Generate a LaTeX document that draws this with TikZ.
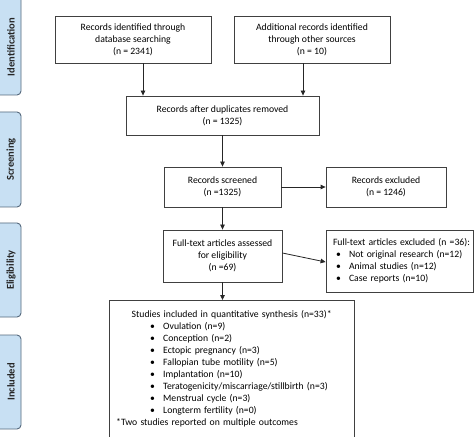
\documentclass[tikz,border=0pt]{standalone}
\usepackage{fontspec}
\setmainfont{Carlito}
\usetikzlibrary{arrows.meta,calc}
\definecolor{barfill}{RGB}{200,224,243}
\definecolor{barline}{RGB}{85,105,125}
\newcommand{\boxfont}{\fontsize{9.7bp}{12bp}\selectfont}
\newcommand{\barfont}{\fontsize{10.5bp}{12bp}\selectfont\bfseries}
\newcommand{\bul}{\makebox[13bp][l]{\textbullet}}
\begin{document}
\begin{tikzpicture}[x=1bp,y=-1bp,
  box/.style={draw=black!75, line width=0.8bp, fill=white, inner sep=0, align=center, font=\boxfont},
  bar/.style={draw=barline, fill=barfill, rounded corners=4bp, line width=0.9bp},
  bartext/.style={rotate=90, font=\barfont, text=black!85},
  arr/.style={-{Triangle[length=5bp,width=4.5bp]}, line width=0.8bp, draw=black!85}
]
\useasboundingbox (0,0) rectangle (474,437);
\clip (0,0) rectangle (474,437);
\fill[white] (0,0) rectangle (474,437);

% side bars
\draw[bar] (-10,-10) rectangle (21,95);
\node[bartext] (lid) at (11,47) {Identification};
\draw[bar] (-10,112) rectangle (21,207);
\node[bartext] (lsc) at (11,159.5) {Screening};
\draw[bar] (-10,223) rectangle (21,317);
\node[bartext] (lel) at (11,270) {Eligibility};
\draw[bar] (-10,335) rectangle (21,429);
\node[bartext] (lin) at (11,382) {Included};

% boxes
\node[box, minimum width=156bp, minimum height=47bp] (b1) at (133,39.5)
  {Records identified through\\database searching\\(n = 2341)};
\node[box, minimum width=156bp, minimum height=47bp] (b2) at (312,39.5)
  {Additional records identified\\through other sources\\(n = 10)};
\node[box, minimum width=193bp, minimum height=39bp] (b3) at (222.5,115.5)
  {Records after duplicates removed\\(n = 1325)};
\node[box, minimum width=117bp, minimum height=40bp] (b4) at (222.5,187)
  {Records screened\\(n =1325)};
\node[box, minimum width=120bp, minimum height=40bp] (b5) at (386,187)
  {Records excluded\\(n = 1246)};
\node[box, minimum width=119bp, minimum height=52bp] (b6) at (222.5,256)
  {Full-text articles assessed\\for eligibility\\(n =69)};
\node[box, align=left, text width=143bp, inner xsep=2bp, minimum height=62bp] (b7) at (399.5,261)
  {\hspace*{5bp}Full-text articles excluded (n =36):\\
   \hspace*{8bp}\bul Not original research (n=12)\\
   \hspace*{8bp}\bul Animal studies (n=12)\\
   \hspace*{8bp}\bul Case reports (n=10)};
\node[box, anchor=north west, minimum width=245bp, minimum height=170bp] (b8) at (109,300) {};
\node[anchor=north west, align=left, inner sep=0, text width=231bp, font=\boxfont] (b8t)
  at ($(b8.north west)+(7,10)$)
  {\makebox[231bp][c]{Studies included in quantitative synthesis (n=33)*}\\
   \hspace*{34bp}\bul Ovulation (n=9)\\
   \hspace*{34bp}\bul Conception (n=2)\\
   \hspace*{34bp}\bul Ectopic pregnancy (n=3)\\
   \hspace*{34bp}\bul Fallopian tube motility (n=5)\\
   \hspace*{34bp}\bul Implantation (n=10)\\
   \hspace*{34bp}\bul Teratogenicity/miscarriage/stillbirth (n=3)\\
   \hspace*{34bp}\bul Menstrual cycle (n=3)\\
   \hspace*{34bp}\bul Longterm fertility (n=0)\\
   {*}Two studies reported on multiple outcomes};

% connectors
\coordinate (p1) at ($(b1.south)+(10,0)$);
\coordinate (p2) at ($(b2.south)+(-9,0)$);
\draw[arr] (p1) -- (p1 |- b3.north);
\draw[arr] (p2) -- (p2 |- b3.north);
\draw[arr] (b3.south) -- (b4.north);
\draw[arr] (b4.east) -- (b5.west);
\draw[arr] (b4.south) -- (b6.north);
\draw[arr] ($(b6.east)+(0,-3)$) -- ($(b7.west)+(0,1)$);
\draw[arr] (b6.south) -- (b6.south |- b8.north);
\end{tikzpicture}
\end{document}
